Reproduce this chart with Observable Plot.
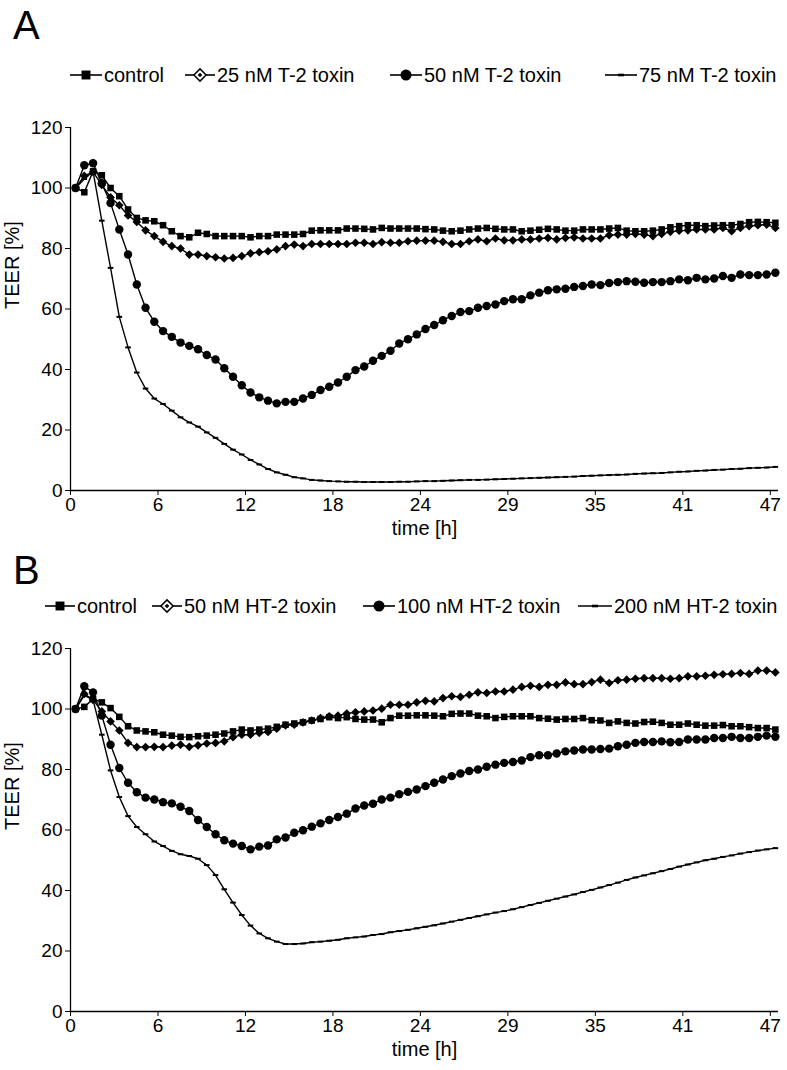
<!DOCTYPE html>
<html>
<head>
<meta charset="utf-8">
<script src="https://cdn.jsdelivr.net/npm/d3@7"></script>
<script src="https://cdn.jsdelivr.net/npm/@observablehq/plot@0.6"></script>
<style>
  html, body { margin: 0; padding: 0; background: #fff; }
  #root { position: relative; width: 787px; height: 1070px; overflow: hidden; font-family: "Liberation Sans", Arial, sans-serif; }
  #root > svg, #root > div { position: absolute; left: 0; }
</style>
</head>
<body>
<div id="root"></div>
<script>
// ---------- axis ticks ----------
const tickHours = [0, 5.875, 11.75, 17.625, 23.5, 29.375, 35.25, 41.125, 47];
const tickLabels = ["0", "6", "12", "18", "24", "29", "35", "41", "47"];
const yTicks = [0, 20, 40, 60, 80, 100, 120];
const firstHour = 0.34;      // first measurement
const stepHours = 0.5875;    // measuring interval

// ---------- panel A : T-2 toxin ----------
const namesA = ["control", "25 nM T-2 toxin", "50 nM T-2 toxin", "75 nM T-2 toxin"];
const aControl = [100, 98.6, 105.5, 104.2, 100, 97.3, 92.9, 90.1, 89.3, 89, 87.7, 85.7, 84.1, 83.7, 85.2, 84.8, 84.1, 84.1, 84.1, 84.1,
  83.7, 84.1, 84.1, 84.6, 84.6, 84.6, 84.8, 85.9, 86, 86, 86, 86.6, 86.6, 86.5, 86.3, 86.8, 86.6, 86.6, 86.6, 86.6,
  86.4, 86.3, 85.9, 85.7, 85.9, 86.3, 86.6, 86.8, 86.5, 86.3, 86.3, 85.7, 85.9, 86.2, 86.5, 86.3, 85.9, 85.9, 86.3, 86.3,
  86.3, 86.6, 86.8, 85.9, 85.7, 85.7, 85.9, 86.3, 87, 87.4, 87.7, 87.7, 87.4, 87.6, 87.7, 87.7, 88.1, 88.7, 88.8, 88.7, 88.5];
const aT2_25 = [100, 104, 105.3, 101, 96.9, 94.3, 90.9, 88.8, 86, 84.1, 82.2, 80.8, 80, 78, 78, 77.5, 77.1, 76.7, 76.9, 77.5,
  78.4, 78.8, 79.1, 79.7, 80.8, 81.3, 80.8, 81.5, 81.5, 81.5, 81.5, 81.5, 81.9, 81.9, 81.5, 82.1, 81.9, 81.9, 82.4, 82.6,
  82.6, 82.6, 82.2, 81.5, 81.5, 82.4, 83, 82.4, 83.3, 82.7, 82.7, 83, 83, 83.3, 83.5, 83, 83.5, 83.7, 83.3, 83.3,
  83.3, 84.4, 84.6, 84.6, 84.8, 84.6, 84.1, 84.8, 85.5, 85.9, 86, 86.3, 86.3, 86.3, 86.8, 85.7, 86.8, 87.4, 87.7, 87.9, 86.8];
const aT2_50 = [100, 107.5, 108.2, 101.6, 95, 86.3, 78, 68.1, 60.4, 55.8, 52.7, 50.8, 48.9, 47.8, 46.7, 44.8, 43.3, 40.4, 37.6, 34.8,
  32.4, 30.8, 29.7, 28.8, 29.3, 29.3, 30.4, 31.6, 33.2, 34.3, 35.7, 37.6, 39.8, 41, 42.9, 44.5, 46.2, 48.6, 50, 51.6,
  53.4, 54.7, 56.3, 57.7, 59, 59.3, 60.4, 61, 61.5, 62.6, 63.2, 63.2, 64.5, 65.4, 66.2, 66.5, 66.7, 67.3, 67.6, 68.1,
  67.9, 68.6, 68.9, 69.2, 69, 68.7, 68.9, 68.9, 69.2, 69.8, 69.5, 70.3, 69.8, 70.1, 70.9, 70.3, 71.4, 71.2, 71.2, 71.4, 72];
const aT2_75 = [100, 103, 105.5, 89.2, 73.6, 57.4, 47.3, 39, 33.7, 30.4, 28.6, 26.4, 24.2, 22.5, 21.1, 19.2, 17.4, 15.4, 13.5, 11.9,
  10.1, 8.6, 7.1, 6, 5.2, 4.4, 4, 3.5, 3.3, 3.1, 3.0, 2.9, 2.9, 2.8, 2.8, 2.8, 2.8, 2.9, 2.9, 3.0,
  3.1, 3.1, 3.2, 3.3, 3.4, 3.5, 3.5, 3.6, 3.7, 3.8, 3.9, 4.0, 4.1, 4.2, 4.3, 4.4, 4.5, 4.6, 4.8, 4.9,
  5.0, 5.1, 5.2, 5.3, 5.5, 5.6, 5.7, 5.8, 6.0, 6.2, 6.3, 6.5, 6.6, 6.8, 6.9, 7.1, 7.2, 7.4, 7.5, 7.6, 7.8];

// ---------- panel B : HT-2 toxin ----------
const namesB = ["control", "50 nM HT-2 toxin", "100 nM HT-2 toxin", "200 nM HT-2 toxin"];
const bControl = [100, 100.7, 103.3, 102.2, 100.3, 97.4, 94.3, 92.9, 92.6, 92.3, 91.5, 91.2, 90.8, 90.7, 91, 91.2, 91.5, 91.9, 92.6, 93.2,
  92.9, 93.2, 93.5, 94.1, 94.8, 95.2, 95.6, 96.2, 96.7, 97.3, 97, 97.3, 96.7, 96.5, 96.5, 95.6, 97, 97.8, 97.8, 97.9,
  97.9, 97.8, 97.6, 98.4, 98.5, 98.5, 97.8, 97.6, 97, 97.4, 97.6, 97.6, 97.6, 97, 96.8, 96.5, 96.7, 96.7, 97, 96.3,
  96.2, 95.4, 95.9, 95.4, 95.2, 95.7, 95.8, 95.4, 94.8, 94.8, 95.2, 94.8, 94.5, 94.5, 94.7, 94.3, 94.3, 94, 93.7, 93.7, 93.2];
const bHT2_50 = [100, 105, 103, 99.2, 95.9, 92.9, 88.8, 87.4, 87.4, 87.5, 87.4, 87.9, 88.2, 87.5, 88, 88.6, 88.8, 89.3, 90.7, 91.5,
  91.5, 92.1, 92.4, 93.5, 94.6, 94.8, 95.6, 96.2, 97, 97.6, 97.8, 98.5, 98.9, 99.2, 99.5, 100.1, 101.4, 101.4, 101.4, 102.2,
  102.7, 102.5, 103.6, 104.2, 104, 104.7, 105.5, 105.3, 105.8, 105.8, 106.4, 107.3, 107.7, 107.3, 108, 108, 108.8, 108.2, 108.2, 108.9,
  109.7, 108.6, 109.5, 109.7, 110, 110.2, 110.2, 110.2, 110, 110.2, 110.8, 110.8, 111, 111.3, 111.5, 111.6, 111.9, 111.6, 112.7, 112.7, 112.1];
const bHT2_100 = [100, 107.5, 105.5, 97.8, 88.2, 80.5, 75.6, 72.5, 70.7, 70.1, 69.2, 68.8, 67.7, 66.3, 63.3, 61, 58.6, 56.6, 55.5, 54.7,
  53.6, 54.5, 54.9, 56.9, 57.5, 59.1, 59.9, 61.1, 62.2, 63.3, 64.3, 65.4, 67.1, 68.1, 68.7, 70.1, 70.7, 71.8, 72.6, 73.4,
  74.5, 75.6, 76.7, 77.8, 78.7, 79.5, 80, 80.9, 81.6, 82.2, 82.5, 83, 84.1, 84.7, 84.7, 85.3, 86, 86.3, 86.6, 86.6,
  86.8, 86.9, 87.7, 88.2, 88.8, 89.1, 89.1, 89.3, 89, 89.1, 89.9, 89.9, 89.9, 90.4, 90.4, 90.8, 90.4, 90.4, 90.8, 91.2, 90.8];
const bHT2_200 = [100, 104.5, 103, 91.5, 79.7, 70.9, 64.6, 61, 58.6, 56.2, 54.7, 53.1, 52, 51.4, 50.5, 48.4, 45.1, 40.4, 36, 31.9,
  28.4, 25.8, 24.2, 23.1, 22.3, 22.3, 22.5, 22.9, 23.1, 23.4, 23.7, 24.2, 24.5, 24.8, 25.3, 25.6, 26.2, 26.6, 27, 27.5,
  28, 28.5, 29.1, 29.7, 30.3, 30.9, 31.5, 32.1, 32.7, 33.2, 33.8, 34.5, 35.2, 35.9, 36.6, 37.3, 38.0, 38.7, 39.5, 40.2,
  41.0, 41.8, 42.6, 43.5, 44.3, 45.0, 45.7, 46.4, 47.1, 47.9, 48.6, 49.3, 50.0, 50.5, 51.1, 51.6, 52.2, 52.7, 53.2, 53.6, 54.0];

// ---------- styling ----------
const markerKinds = ["square", "diamond", "circle", "dash"];
const dashSymbol = { draw(ctx) { ctx.moveTo(-2.8, -1); ctx.lineTo(2.8, -1); ctx.lineTo(2.8, 1); ctx.lineTo(-2.8, 1); ctx.closePath(); } };
const markStyle = {
  square:  { symbol: "square", r: 3.7 },
  diamond: { symbol: "diamond2", r: 3.9 },
  circle:  { symbol: "circle", r: 4.2 },
  dash:    { symbol: dashSymbol, r: 2 }
};
const FONT = "'Liberation Sans', Arial, sans-serif";
const root = document.getElementById("root");

function tidy(names, arrays) {
  const rows = [];
  names.forEach((name, s) => arrays[s].forEach((v, i) => rows.push({ series: name, kind: markerKinds[s], t: firstHour + i * stepHours, v })));
  return rows;
}

function panel(names, arrays, top, marginTop) {
  const rows = tidy(names, arrays);
  const marks = [
    Plot.ruleY([0], { stroke: "black", strokeWidth: 1.3 }),
    Plot.ruleX([0], { stroke: "black", strokeWidth: 1.3 })
  ];
  names.forEach((name, s) => {
    const d = rows.filter(r => r.series === name);
    const k = markerKinds[s];
    marks.push(Plot.line(d, { x: "t", y: "v", stroke: "black", strokeWidth: 1.4 }));
    marks.push(Plot.dot(d, { x: "t", y: "v", fill: "black", stroke: "none", ...markStyle[k] }));
  });
  marks.push(Plot.text(["time [h]"], { frameAnchor: "bottom", lineAnchor: "middle", dy: 38, fontSize: 20, fill: "black" }));
  marks.push(Plot.text(["TEER [%]"], { frameAnchor: "left", dx: -58, rotate: -90, fontSize: 20, fill: "black" }));
  const svg = Plot.plot({
    width: 787,
    height: marginTop + 363 + 56,
    marginLeft: 70,
    marginRight: 9,
    marginTop,
    marginBottom: 56,
    style: { fontFamily: FONT, fontSize: "19px", color: "black", background: "white", overflow: "visible" },
    x: { domain: [0, 47.55], ticks: tickHours, tickFormat: (d, i) => tickLabels[i], tickSize: 5, tickPadding: 2, label: null },
    y: { domain: [0, 120], ticks: yTicks, tickSize: 5, tickPadding: 3, label: null },
    marks
  });
  svg.style.position = "absolute";
  svg.style.top = top + "px";
  svg.style.left = "0px";
  root.appendChild(svg);
}

function header(letter, letterBaseline, names, items, legendY, top, height) {
  const svg = d3.create("svg").attr("width", 787).attr("height", height)
    .style("position", "absolute").style("top", top + "px").style("left", "0px")
    .style("font-family", FONT);
  svg.append("text").attr("x", 13).attr("y", letterBaseline - top).attr("font-size", 40).text(letter);
  const cy = legendY - top;
  names.forEach((name, s) => {
    const it = items[s];
    const g = svg.append("g");
    g.append("line").attr("x1", it[0]).attr("x2", it[1]).attr("y1", cy).attr("y2", cy).attr("stroke", "black").attr("stroke-width", 1.6);
    const mx = (it[0] + it[1]) / 2;
    const k = markerKinds[s];
    if (k === "square") {
      g.append("path").attr("d", d3.symbol(d3.symbolSquare, 80)).attr("transform", `translate(${mx},${cy})`).attr("fill", "black");
    } else if (k === "diamond") {
      g.append("path").attr("d", d3.symbol(d3.symbolDiamond2, 95)).attr("transform", `translate(${mx},${cy})`).attr("fill", "white").attr("stroke", "black").attr("stroke-width", 1.5);
      g.append("path").attr("d", d3.symbol(d3.symbolDiamond2, 14)).attr("transform", `translate(${mx},${cy})`).attr("fill", "black");
    } else if (k === "circle") {
      g.append("circle").attr("cx", mx).attr("cy", cy).attr("r", 5.5).attr("fill", "black");
    } else {
      g.append("rect").attr("x", mx - 3).attr("y", cy - 1.3).attr("width", 6).attr("height", 2.6).attr("fill", "black");
    }
    g.append("text").attr("x", it[1] + 2).attr("y", cy + 7).attr("font-size", 20).text(name);
  });
  root.appendChild(svg.node());
}

// legend item line extents [x1, x2]
const legendA = [[70, 102], [185, 215], [390, 422], [605, 637]];
const legendB = [[45, 75], [152, 182], [363, 395], [578, 612]];

header("A", 39, namesA, legendA, 75, 0, 96);
panel(namesA, [aControl, aT2_25, aT2_50, aT2_75], 96, 31);
header("B", 584, namesB, legendB, 606, 545, 77);
panel(namesB, [bControl, bHT2_50, bHT2_100, bHT2_200], 622, 26);
</script>
</body>
</html>
